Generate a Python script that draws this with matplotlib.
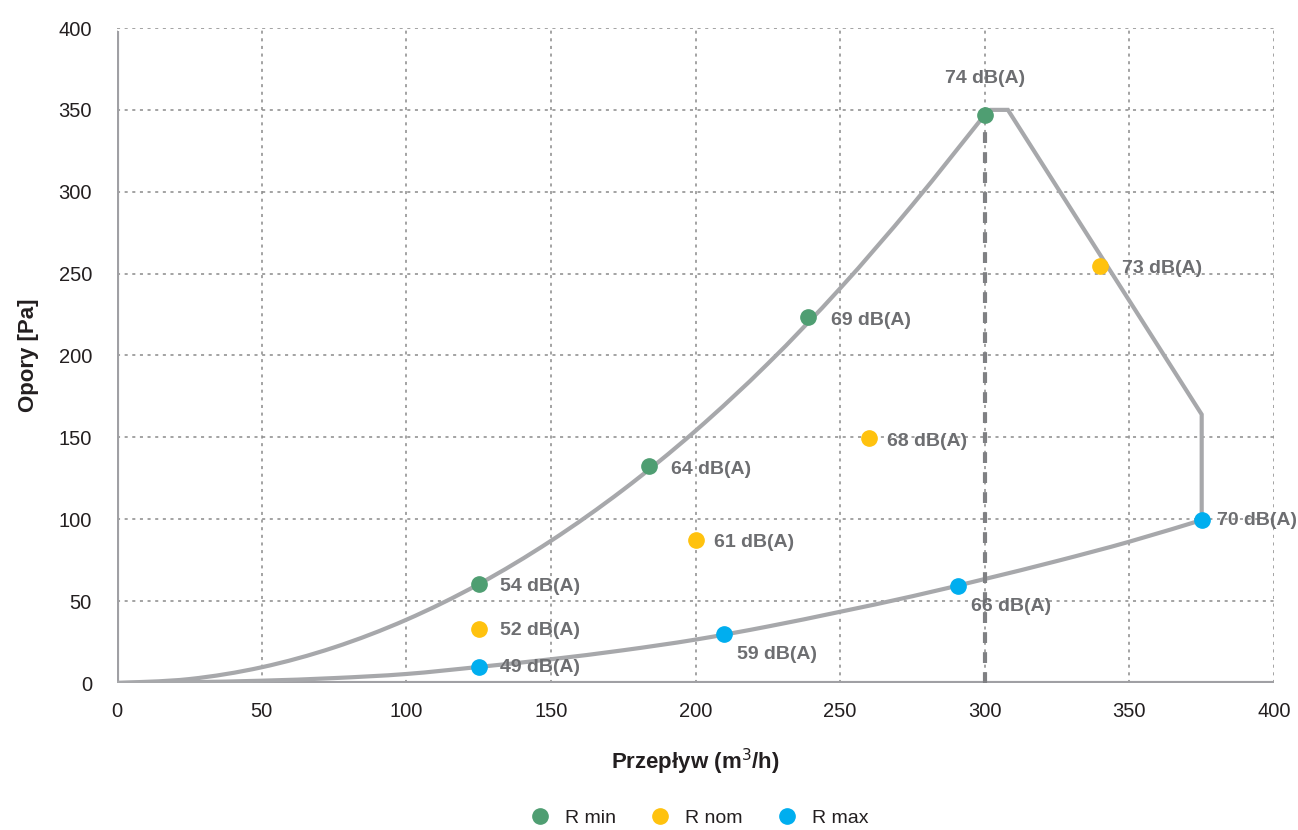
import matplotlib
matplotlib.use("Agg")
import matplotlib.pyplot as plt
from matplotlib.lines import Line2D
from matplotlib.path import Path
from matplotlib.patches import PathPatch

plt.rcParams['font.family'] = ['Liberation Sans', 'DejaVu Sans']

# working envelope of the fan (flow m3/h, pressure Pa)
upper_x = [0, 25, 50, 75, 100, 125, 150, 175, 200, 225, 250, 275, 300]
upper_y = [0, 2.4, 9.6, 21.7, 38.6, 60.3, 86.8, 118, 154, 195, 241, 292, 347]
side_x = [300, 302, 308, 375, 375]
side_y = [347, 350, 350, 164, 99.5]
lower_x = [375, 350, 325, 300, 275, 250, 225, 200, 175, 150, 125, 100, 75, 50, 25, 0]
lower_y = [99.5, 86.3, 74.5, 63.5, 53, 43.5, 34.5, 26.5, 20, 14.5, 9.8, 5.5, 3, 1.4, 0.5, 0]

# measuring points
rmin_x = [125, 184, 239, 300]
rmin_y = [60.5, 132.5, 223.5, 347]
rmin_lab = ["54 dB(A)", "64 dB(A)", "69 dB(A)", "74 dB(A)"]

rnom_x = [125, 200, 260, 340]
rnom_y = [33, 87.3, 149.6, 254.7]
rnom_lab = ["52 dB(A)", "61 dB(A)", "68 dB(A)", "73 dB(A)"]

rmax_x = [125, 210, 290.7, 375]
rmax_y = [9.8, 30, 59.2, 99.5]
rmax_lab = ["49 dB(A)", "59 dB(A)", "66 dB(A)", "70 dB(A)"]

# label offsets in pixels (dx, dy)
rmin_off = [(21, -3), (22, -3), (23, -3), (0, 36)]
rnom_off = [(21, -2), (19, -2), (18, -3), (22, -3)]
rmax_off = [(21, -1), (13, -21), (13, -20), (15, 0)]

green = "#4f9e72"
yellow = "#ffc20e"
blue = "#00aeef"
line_col = "#a7a8ab"
lab_col = "#6d6e71"


def smooth_path(xs, ys):
    # smoothed line through the points (Catmull-Rom drawn as cubic Bezier)
    pts = list(zip(xs, ys))
    verts = [pts[0]]
    codes = [Path.MOVETO]
    for i in range(len(pts) - 1):
        p0 = pts[i - 1] if i > 0 else pts[i]
        p1, p2 = pts[i], pts[i + 1]
        p3 = pts[i + 2] if i + 2 < len(pts) else p2
        c1 = (p1[0] + (p2[0] - p0[0]) / 6, p1[1] + (p2[1] - p0[1]) / 6)
        c2 = (p2[0] - (p3[0] - p1[0]) / 6, p2[1] - (p3[1] - p1[1]) / 6)
        verts += [c1, c2, p2]
        codes += [Path.CURVE4] * 3
    return Path(verts, codes)


fig = plt.figure(figsize=(12.98, 8.30), dpi=100)
ax = fig.add_axes([117/1298, 1-683/830, (1274-117)/1298, (683-28)/830])

ax.set_xlim(0, 400)
ax.set_ylim(0, 400)
ax.set_xticks(range(0, 401, 50))
ax.set_yticks(range(0, 401, 50))
ax.grid(True, linestyle=(0, (2, 3)), color="#8a8a8a", linewidth=1.1)
ax.set_axisbelow(True)

for s in ax.spines.values():
    s.set_visible(False)

ax.plot([0, 0], [0, 398], color="#a0a0a4", linewidth=3, solid_capstyle='butt', zorder=2)
ax.plot([0, 400], [0, 0], color="#a0a0a4", linewidth=3, solid_capstyle='butt', zorder=2)

for xs, ys in [(upper_x, upper_y), (lower_x, lower_y)]:
    ax.add_patch(PathPatch(smooth_path(xs, ys), facecolor='none', edgecolor=line_col,
                           linewidth=3, zorder=3))
ax.plot(side_x, side_y, color=line_col, linewidth=3, zorder=3, solid_joinstyle='miter')
ax.plot([300, 300], [0, 347], color="#7f8083", linewidth=3, linestyle=(0, (2.6, 2.2)),
        solid_capstyle='butt', dash_capstyle='butt', zorder=3)

ax.tick_params(length=0, labelsize=14.5, pad=14, colors="#231f20")
ax.tick_params(axis='y', pad=18)

for xs, ys, labs, offs, c in [(rmin_x, rmin_y, rmin_lab, rmin_off, green),
                              (rnom_x, rnom_y, rnom_lab, rnom_off, yellow),
                              (rmax_x, rmax_y, rmax_lab, rmax_off, blue)]:
    ax.plot(xs, ys, linestyle='none', marker='o', markersize=11, color=c, zorder=5)
    for x, y, t, (dx, dy) in zip(xs, ys, labs, offs):
        ha = 'center' if dx == 0 else 'left'
        ax.annotate(t, (x, y), xytext=(dx, dy), textcoords='offset pixels',
                    ha=ha, va='center', fontsize=14, fontweight='bold', color=lab_col, zorder=6)

ax.set_xlabel("Przepływ (m$^3$/h)", fontsize=16, fontweight='bold', color="#231f20", labelpad=18)
ax.set_ylabel("Opory [Pa]", fontsize=16, fontweight='bold', color="#231f20", labelpad=14)

handles = [Line2D([], [], linestyle='none', marker='o', markersize=11, color=c) for c in (green, yellow, blue)]
fig.legend(handles, ["R min", "R nom", "R max"], loc='center', bbox_to_anchor=(0.535, 1-818/830),
           ncol=3, frameon=False, fontsize=14, handletextpad=0.3, columnspacing=1.25,
           labelcolor="#231f20")

fig.savefig("out.png", dpi=100)
